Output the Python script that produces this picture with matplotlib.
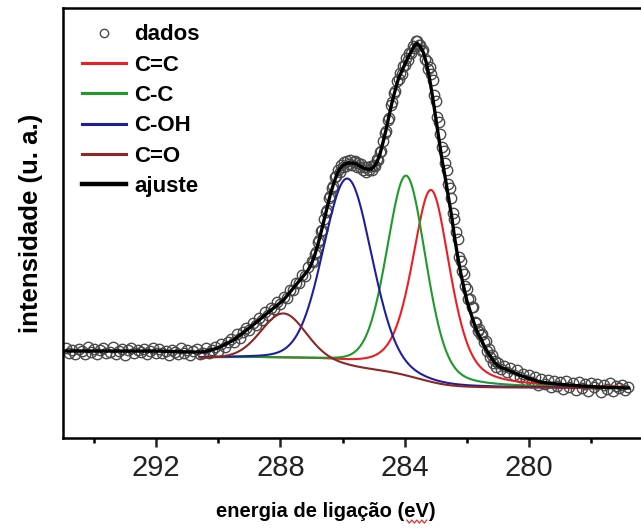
import numpy as np
import matplotlib
matplotlib.use('Agg')
import matplotlib.pyplot as plt
from matplotlib.lines import Line2D
from matplotlib.ticker import MultipleLocator

plt.rcParams['font.family'] = ['Liberation Sans', 'DejaVu Sans']

# curva de ajuste (grade de 0.1 eV, de 294.9 a 276.8 eV)
energia_ajuste = np.round(np.arange(2949, 2767, -1) / 10, 1)
ajuste = [
    3.7, 3.7, 3.7, 3.7, 3.7, 3.7, 3.7, 3.7, 3.7, 3.7,
    3.7, 3.7, 3.7, 3.7, 3.7, 3.7, 3.7, 3.7, 3.7, 3.7,
    3.7, 3.7, 3.7, 3.7, 3.7, 3.7, 3.7, 3.7, 3.7, 3.7,
    3.69, 3.68, 3.67, 3.66, 3.65, 3.64, 3.63, 3.62, 3.61, 3.6,
    3.6, 3.6, 3.6, 3.6, 3.6, 3.66, 3.74, 3.83, 3.92, 4.02,
    4.17, 4.33, 4.49, 4.65, 4.81, 5.05, 5.29, 5.53, 5.76, 6.0,
    6.26, 6.51, 6.77, 7.03, 7.29, 7.54, 7.79, 8.05, 8.3, 8.56,
    8.81, 9.19, 9.57, 9.94, 10.31, 10.69, 11.07, 11.44, 11.85, 12.45,
    13.27, 14.3, 15.5, 16.78, 18.04, 19.3, 20.35, 21.22, 21.9, 22.24,
    22.42, 22.5, 22.5, 22.45, 22.31, 22.11, 21.97, 21.87, 21.88, 22.1,
    22.55, 23.37, 24.57, 25.87, 27.31, 28.69, 29.88, 30.97, 31.67, 32.35,
    33.01, 33.6, 34.19, 34.47, 34.14, 33.54, 32.47, 30.9, 29.03, 26.95,
    24.88, 22.8, 21.07, 19.18, 17.36, 15.12, 13.21, 11.51, 10.06, 8.72,
    7.72, 6.77, 5.83, 5.2, 4.58, 3.95, 3.44, 2.97, 2.5, 2.22,
    2.06, 1.94, 1.82, 1.68, 1.54, 1.41, 1.28, 1.17, 1.06, 0.95,
    0.84, 0.74, 0.64, 0.57, 0.54, 0.5, 0.47, 0.43, 0.4, 0.37,
    0.33, 0.3, 0.28, 0.26, 0.24, 0.22, 0.2, 0.18, 0.16, 0.14,
    0.12, 0.1, 0.09, 0.08, 0.07, 0.06, 0.05, 0.04, 0.03, 0.02,
    0.01, 0.0,
]

# pontos experimentais (passo de 0.05 eV na regiao dos picos)
energia_dados = np.round(np.concatenate([np.arange(2949, 2870, -1) / 10,
                                         np.arange(28700, 28100, -5) / 100,
                                         np.arange(2810, 2767, -1) / 10]), 2)
dados = [
    4.0, 3.5, 3.8, 3.4, 3.9, 3.7, 3.4, 4.1, 3.6, 3.9,
    3.4, 3.8, 4.0, 3.5, 3.6, 4.1, 3.4, 3.7, 3.9, 3.3,
    3.8, 4.0, 3.5, 3.8, 3.6, 3.9, 3.4, 3.7, 4.0, 3.5,
    3.9, 3.5, 3.7, 3.3, 3.8, 3.6, 3.4, 4.0, 3.5, 3.8,
    3.3, 3.7, 3.9, 3.4, 3.5, 4.0, 3.5, 3.8, 4.1, 3.7,
    4.4, 4.1, 4.6, 4.9, 4.6, 5.4, 5.0, 5.6, 6.0, 5.8,
    6.5, 6.3, 7.0, 6.8, 7.6, 7.3, 8.0, 7.9, 8.6, 8.4,
    9.1, 9.0, 9.8, 9.8, 10.5, 10.5, 11.3, 11.2, 12.1,
    # 287.00 - 281.05 eV
    12.7, 12.6, 13.4, 13.6, 14.6, 14.8, 15.7, 15.8, 16.9, 17.6,
    17.8, 19.0, 19.2, 20.0, 20.2, 21.1, 21.2, 21.8, 21.6, 22.3,
    22.1, 22.6, 22.2, 22.7, 22.4, 22.8, 22.3, 22.6, 22.7, 22.1,
    22.5, 22.1, 22.4, 21.8, 22.1, 21.6, 22.1, 21.8, 22.2, 21.8,
    22.3, 22.2, 22.9, 22.8, 23.6, 23.7, 24.7, 25.5, 25.7, 26.8,
    27.0, 28.3, 28.6, 29.5, 29.7, 30.7, 30.9, 31.5, 31.4, 32.2,
    32.3, 33.0, 32.8, 33.5, 33.5, 34.2, 34.0, 34.7, 34.7, 34.3,
    34.3, 33.7, 33.8, 32.9, 32.7, 31.9, 32.1, 31.4, 30.8, 29.3,
    28.7, 27.1, 26.6, 25.4, 24.1, 23.7, 22.5, 21.8, 20.4, 20.0,
    19.0, 17.5, 16.9, 15.6, 14.9, 13.1, 12.7, 11.7, 11.4, 10.2,
    9.9, 8.9, 8.9, 8.1, 8.1, 6.6, 6.5, 5.7, 5.9, 5.3,
    5.4, 4.6, 4.7, 3.7, 3.9, 3.1, 3.3, 2.5, 2.7, 2.1,
    # 281.0 - 276.8 eV
    2.5, 1.9, 2.2, 1.6, 2.0, 1.3, 1.8, 1.1, 1.4, 0.8,
    1.3, 0.6, 1.1, 0.3, 0.9, 0.4, 0.8, 0.1, 0.7, 0.2,
    0.6, -0.1, 0.7, 0.1, 0.5, -0.2, 0.6, 0.0, 0.4, -0.3,
    0.5, 0.1, 0.4, -0.4, 0.3, -0.1, 0.5, -0.3, 0.2, 0.0,
    0.3, -0.2, 0.1,
]

# componentes do ajuste (pseudo-Voigt sobre fundo de Shirley)
componentes = ['C=C', 'C-C', 'C-OH', 'C=O']
cores = ['#ee1d23', '#1d9a2a', '#1f1f9e', '#8e2626']
centros = [283.15, 283.95, 285.84, 287.9]
alturas = [19.2, 20.0, 18.7, 4.6]
larguras = [1.45, 1.5, 1.85, 1.7]      # FWHM (eV)
frac_lorentz = [0.5, 0.3, 0.15, 0.1]
fundo_alto, fundo_baixo = 3.0, 0.0


def pseudo_voigt(e, c, h, fwhm, m):
    u = (e - c) / (fwhm / 2)
    return h * (m / (1 + u ** 2) + (1 - m) * np.exp(-np.log(2) * u ** 2))


e_fino = np.linspace(277.0, 290.6, 700)
picos = [pseudo_voigt(e_fino, c, h, w, m)
         for c, h, w, m in zip(centros, alturas, larguras, frac_lorentz)]
area = np.cumsum(np.sum(picos, axis=0))
fundo = fundo_baixo + (fundo_alto - fundo_baixo) * area / area[-1]

fig = plt.figure(figsize=(6.41, 5.31), dpi=100)
ax = fig.add_axes([63 / 641, 93 / 531, 581 / 641, 430 / 531])

ax.plot(energia_dados, dados, 'o', mfc='none', mec='#4a4a4a', ms=7.5, mew=1.0,
        label='dados', zorder=2)
for nome, cor, pico in zip(componentes, cores, picos):
    ax.plot(e_fino, pico + fundo, color=cor, lw=1.5, label=nome, zorder=3)
ax.plot(energia_ajuste, ajuste, color='black', lw=2.4, label='ajuste', zorder=4)

ax.set_xlim(295.0, 276.3)
ax.set_ylim(-5.0, 38.0)
ax.set_yticks([])
ax.xaxis.set_major_locator(MultipleLocator(4))
ax.xaxis.set_minor_locator(MultipleLocator(2))
ax.tick_params(axis='x', which='major', direction='out', length=6.5, width=1.8,
               labelsize=21, pad=5, colors='#222222')
ax.tick_params(axis='x', which='minor', direction='out', length=3.5, width=1.8)
for s in ax.spines.values():
    s.set_linewidth(1.8)

ax.set_xlabel('energia de ligação (eV)', fontsize=14.5, fontweight='bold')
ax.xaxis.set_label_coords(0.4527, -0.149)
ax.set_ylabel('intensidade (u. a.)', fontsize=18.5, fontweight='bold')
ax.yaxis.set_label_coords(-0.034, 0.5)

leg = ax.legend(loc='upper left', bbox_to_anchor=(0.0327, 0.962), frameon=False,
                borderpad=0, borderaxespad=0, handlelength=2.0, handletextpad=0.35,
                labelspacing=0.42, prop={'weight': 'bold', 'size': 16})
leg.legend_handles[0].set_markersize(6)
for h in leg.legend_handles[1:5]:
    h.set_linewidth(2.2)
leg.legend_handles[5].set_linewidth(3.2)

# sublinhado ondulado vermelho sob "eV" (como no original)
fig.canvas.draw()
bb = ax.xaxis.label.get_window_extent()
xs = np.linspace(bb.x1 - 29, bb.x1 - 9, 9)
ys = bb.y0 + 1 - 3 * (np.arange(9) % 2)
fig.add_artist(Line2D(xs, ys, transform=None, color='#e03030', lw=0.9))

fig.savefig('out.png', dpi=100)
